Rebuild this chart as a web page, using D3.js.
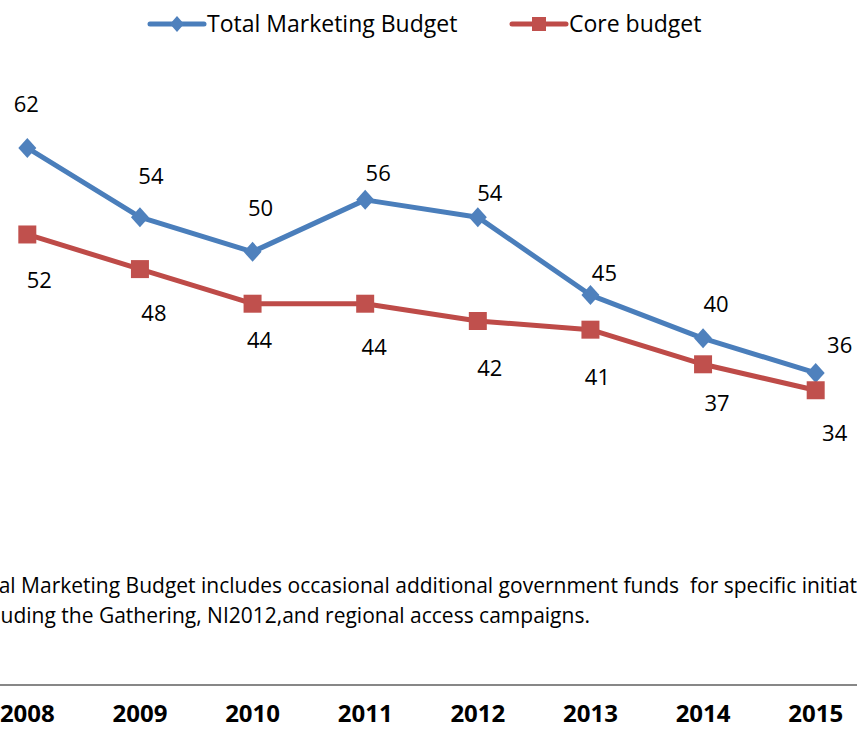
<!DOCTYPE html>
<html>
<head>
<meta charset="utf-8">
<script src="https://cdn.jsdelivr.net/npm/d3@7"></script>
<style>
  html, body { margin: 0; padding: 0; background: #fff; }
  svg { display: block; font-family: "Open Sans", Lato, sans-serif; }
  text { white-space: pre; }
</style>
</head>
<body>
<svg id="chart" width="857" height="734"></svg>
<script>
// Marketing budget by year (€m)
const years = ["2008", "2009", "2010", "2011", "2012", "2013", "2014", "2015"];
const totalBudget = [62, 54, 50, 56, 54, 45, 40, 36];
const coreBudget = [52, 48, 44, 44, 42, 41, 37, 34];
const seriesNames = ["Total Marketing Budget", "Core budget"];
const footnoteLines = [
  "Total Marketing Budget includes occasional additional government funds  for specific initiatives",
  "including the Gathering, NI2012,and regional access campaigns."
];

// Hand-placed data label nudges (dx, dy from the marker centre)
const totalLabelShift = [[-1,-44],[11,-41],[8,-43],[13,-27],[12,-24],[14,-22],[13,-34],[24,-28]];
const coreLabelShift = [[12,46],[14,44],[7,37],[9,44],[12,47],[7,48],[14,39],[19,43]];

const blueLine = "#4A7EBB", blueMark = "#4F81BD";
const redLine = "#BE4B48", redMark = "#C0504D";

const svg = d3.select("#chart");

const x = d3.scaleBand().domain(years).range([-29, 872]).padding(0);
const cx = d => x(d) + x.bandwidth() / 2;
const y = d3.scaleLinear().domain([0, 70]).range([684.5, 78.7]);

// category axis along the zero line
const axis = svg.append("g")
  .attr("transform", `translate(0,${y(0)})`)
  .call(d3.axisBottom(x).tickSize(0).tickPadding(20));
axis.select(".domain").attr("stroke", "#878787").attr("stroke-width", 2);
axis.selectAll("text")
  .attr("font-family", "'Open Sans', sans-serif")
  .attr("font-size", 24)
  .attr("font-weight", "bold")
  .attr("fill", "#000");

// footnote
svg.append("g").selectAll("text").data(footnoteLines).join("text")
  .attr("x", -33)
  .attr("y", (d, i) => 593 + i * 30)
  .attr("font-size", 21)
  .attr("fill", "#000")
  .text(d => d);

const line = d3.line().x(d => cx(d.year)).y(d => y(d.value));

function drawSeries(values, lineColor, markColor, marker, shifts) {
  const pts = values.map((v, i) => ({ year: years[i], value: v, shift: shifts[i] }));
  const g = svg.append("g");
  g.append("path").datum(pts)
    .attr("d", line)
    .attr("fill", "none")
    .attr("stroke", lineColor)
    .attr("stroke-width", 5)
    .attr("stroke-linejoin", "round");
  g.selectAll("path.mark").data(pts).join("path")
    .attr("class", "mark")
    .attr("transform", d => `translate(${cx(d.year)},${y(d.value)})`)
    .attr("d", marker)
    .attr("fill", markColor);
  g.selectAll("text").data(pts).join("text")
    .attr("x", d => cx(d.year) + d.shift[0])
    .attr("y", d => y(d.value) + d.shift[1])
    .attr("dy", "0.35em")
    .attr("text-anchor", "middle")
    .attr("font-size", 22)
    .attr("fill", "#000")
    .text(d => d.value);
}

const diamondPath = "M0,-10L9,0L0,10L-9,0Z";
const squarePath = "M-9,-9H9V9H-9Z";

drawSeries(totalBudget, blueLine, blueMark, diamondPath, totalLabelShift);
drawSeries(coreBudget, redLine, redMark, squarePath, coreLabelShift);

// legend
const legend = svg.append("g");
const legendItems = [
  { name: seriesNames[0], x0: 150, color: blueLine, mark: blueMark, shape: "M0,-8L7,0L0,8L-7,0Z" },
  { name: seriesNames[1], x0: 512, color: redLine, mark: redMark, shape: "M-7,-7H7V7H-7Z" }
];
legendItems.forEach(it => {
  legend.append("line")
    .attr("x1", it.x0).attr("x2", it.x0 + 54)
    .attr("y1", 24).attr("y2", 24)
    .attr("stroke", it.color).attr("stroke-width", 5).attr("stroke-linecap", "round");
  legend.append("path")
    .attr("transform", `translate(${it.x0 + 27},24)`)
    .attr("d", it.shape).attr("fill", it.mark);
  legend.append("text")
    .attr("x", it.x0 + 57).attr("y", 24).attr("dy", "0.35em")
    .attr("font-size", 23).attr("fill", "#000")
    .text(it.name);
});
</script>
</body>
</html>
